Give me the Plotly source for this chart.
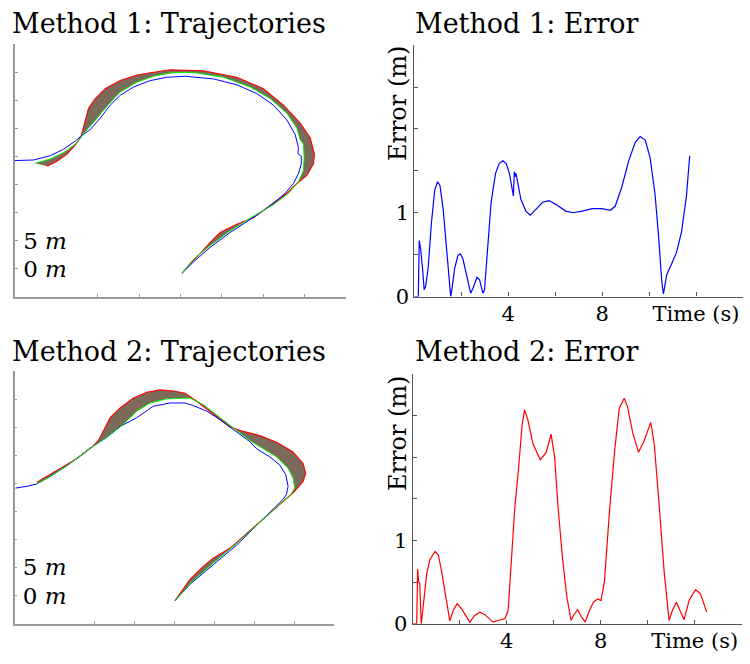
import plotly.graph_objects as go

# ---------------- Method 1 trajectories (metres) ----------------
m1_ref_x = [-20.0, -17.76, -15.74, -14.13, -12.72, -12.12, -10.91, -9.70, -8.49, -7.28, -5.68, -3.66, -1.64, 0.57,
            3.99, 6.81, 9.23, 11.23, 12.85, 13.86, 14.25, 14.2, 14.6, 14.6, 14.25, 13.65, 12.65, 11.23, 9.63, 8.42,
            6.00, 3.59, 1.57, 0.17]
m1_ref_y = [19.25, 19.35, 20.12, 21.27, 22.74, 23.49, 24.77, 26.81, 29.14, 30.89, 32.36, 33.51, 34.10, 34.28,
            33.81, 32.76, 31.18, 29.14, 26.52, 23.90, 21.57, 20.5, 20.0, 18.65, 16.90, 15.16, 13.41, 11.66, 9.91, 8.76,
            6.42, 3.79, 1.17, -0.86]

m1_act_x = [-17.55, -15.74, -13.93, -12.51, -12.03, -11.11, -9.91, -8.70, -7.28, -5.27, -3.26, -1.24, 0.57, 1.98,
            5.19, 8.42, 10.84, 12.85, 14.06, 14.46, 14.86, 14.94, 14.86, 14.25, 13.05, 11.23, 8.42, 6.00, 3.59, 1.57,
            0.17]
m1_act_y = [18.77, 19.53, 20.82, 22.44, 23.44, 25.07, 27.11, 29.26, 31.48, 33.23, 34.28, 34.86, 34.98, 34.86,
            34.10, 32.36, 30.31, 27.69, 25.07, 23.02, 22.15, 19.82, 17.50, 15.45, 13.41, 11.38, 8.98, 6.71, 4.09, 1.64,
            -0.86]

m1_out_x = [-16.14, -14.93, -13.72, -12.72, -12.03, -11.72, -11.11, -10.30, -9.10, -7.28, -5.27, -2.85, -1.24,
            2.78, 6.81, 10.03, 12.44, 14.46, 15.67, 16.19, 16.07, 15.27, 14.06, 12.85, 11.23, 8.82, 6.81, 4.80, 3.59,
            2.38, 1.17, 0.17]
m1_out_y = [18.25, 19.12, 20.40, 22.04, 23.49, 25.36, 28.56, 30.31, 32.06, 33.51, 34.51, 35.08, 35.43,
            35.26, 34.10, 32.06, 29.14, 25.94, 23.32, 20.40, 18.65, 16.62, 15.16, 13.41, 11.61, 9.04, 7.88, 6.42, 4.67,
            2.64, 0.89, -0.86]

# ---------------- Method 2 trajectories (metres) ----------------
m2_ref_x = [-19.9, -18.45, -17.29, -15.54, -13.04, -10.54, -8.45, -6.79, -4.70, -2.63, -0.54, 1.34, 2.38, 4.05,
            5.71, 7.80, 9.46, 10.30, 11.96, 13.21, 13.96, 14.25, 14.05, 13.63, 11.13, 7.80, 4.88, 1.96, 0.09]
m2_ref_y = [19.15, 19.47, 19.87, 21.22, 23.55, 26.29, 28.21, 30.14, 31.71, 33.75, 34.33, 34.33, 33.86, 32.88,
            31.36, 29.09, 27.43, 26.17, 24.72, 23.27, 21.52, 19.47, 18.02, 17.15, 13.65, 8.98, 5.49, 1.99, -0.93]

m2_act_x = [-17.29, -15.54, -13.04, -10.54, -8.45, -6.38, -4.70, -3.04, -0.95, 1.34, 1.96, 3.63, 5.71, 7.80,
            9.46, 11.13, 12.80, 14.25, 14.88, 15.09, 14.46, 13.63, 11.13, 7.80, 4.88, 1.96, 0.09]
m2_act_y = [19.87, 21.22, 23.55, 26.29, 28.21, 30.54, 32.88, 34.33, 35.08, 35.20, 35.20, 34.03, 31.71, 29.38,
            27.64, 26.17, 24.72, 22.67, 20.92, 19.18, 17.72, 16.85, 13.65, 9.28, 5.79, 2.12, -0.93]

m2_out_x = [-17.20, -16.38, -14.29, -12.20, -10.33, -9.50, -8.88, -8.04, -6.79, -5.13, -3.45, -1.79, -0.13, 1.34,
            2.80, 4.88, 6.96, 8.63, 10.71, 12.80, 14.88, 16.13, 16.46, 16.13, 15.09, 13.84, 11.13, 9.5, 6.96, 4.88,
            3.63, 1.96, 0.09]
m2_out_y = [20.17, 20.92, 22.67, 24.42, 26.46, 27.64, 29.38, 31.71, 33.46, 35.20, 36.25, 36.66, 36.48, 36.08,
            34.63, 32.29, 30.08, 29.26, 28.51, 27.34, 25.59, 23.55, 21.80, 20.35, 18.60, 17.03, 13.65, 11.55, 8.41,
            6.66, 5.19, 2.87, -0.93]

# ---------------- Errors ----------------
err1_t = [0, 0.17, 0.21, 0.27, 0.35, 0.42, 0.48, 0.59, 0.73, 0.87, 0.99, 1.09, 1.23, 1.37, 1.51, 1.55, 1.62, 1.72,
          1.86, 1.96, 2.07, 2.24, 2.40, 2.50, 2.67, 2.78, 2.92, 2.99, 3.13, 3.27, 3.46, 3.62, 3.77, 3.91, 4.05, 4.15,
          4.22, 4.26, 4.30, 4.33, 4.37, 4.54, 4.75, 4.94, 5.18, 5.46, 5.74, 6.02, 6.45, 6.76, 7.15, 7.58, 8.00, 8.35,
          8.56, 8.84, 9.13, 9.41, 9.62, 9.83, 10.04, 10.25, 10.40, 10.54, 10.61, 10.75, 10.96, 11.17, 11.38, 11.59,
          11.73]
err1_v = [0, 0, 0.668, 0.57, 0.34, 0.08, 0.12, 0.34, 0.88, 1.27, 1.37, 1.33, 1.04, 0.57, 0.10, 0.0, 0.12, 0.34,
          0.49, 0.51, 0.45, 0.22, 0.04, 0.10, 0.23, 0.20, 0.04, 0.08, 0.57, 1.12, 1.47, 1.59, 1.62, 1.59, 1.47, 1.33,
          1.20, 1.49, 1.43, 1.47, 1.41, 1.16, 1.02, 0.97, 1.04, 1.125, 1.145, 1.10, 1.02, 1.00, 1.02, 1.05, 1.05, 1.03,
          1.08, 1.31, 1.62, 1.84, 1.91, 1.87, 1.66, 1.23, 0.73, 0.18, 0.03, 0.26, 0.39, 0.53, 0.77, 1.20,
          1.68]

err2_t = [0, 0.17, 0.21, 0.25, 0.30, 0.36, 0.42, 0.59, 0.73, 0.95, 1.09, 1.23, 1.41, 1.58, 1.72, 1.89, 2.08, 2.29,
          2.43, 2.64, 2.86, 3.07, 3.28, 3.42, 3.63, 3.92, 4.06, 4.20, 4.34, 4.51, 4.66, 4.76, 4.90, 5.12, 5.43, 5.68,
          5.89, 6.04, 6.18, 6.36, 6.56, 6.74, 6.84, 7.02, 7.19, 7.34, 7.52, 7.69, 7.87, 8.01, 8.16, 8.37, 8.58, 8.79,
          9.00, 9.14, 9.36, 9.61, 9.85, 10.13, 10.28, 10.49, 10.70, 10.91, 11.05, 11.22, 11.41, 11.55, 11.76, 12.04,
          12.25, 12.51]
err2_v = [0, 0, 0.66, 0.51, 0.48, 0.0, 0.14, 0.59, 0.77, 0.87, 0.83, 0.63, 0.32, 0.035, 0.16, 0.24, 0.18, 0.075,
          0.02, 0.10, 0.14, 0.11, 0.05, 0.02, 0.04, 0.06, 0.16, 0.79, 1.38, 1.89, 2.40, 2.57, 2.45, 2.16, 1.97, 2.06,
          2.28, 2.00, 1.42, 0.83, 0.32, 0.04, 0.10, 0.17, 0.08, 0.02, 0.16, 0.26, 0.30, 0.28, 0.51, 1.34, 2.04, 2.59,
          2.71, 2.61, 2.30, 2.06, 2.20, 2.42, 2.16, 1.42, 0.63, 0.04, 0.16, 0.26, 0.14, 0.05, 0.28, 0.41,
          0.36, 0.14]

traj_ticks = [-20, -15, -10, -5, 0, 5, 10, 15, 20]
traj_yticks = [-5, 0, 5, 10, 15, 20, 25, 30, 35, 40]
traj_ytext = ["", "0 <i>m</i>", "5 <i>m</i>", "", "", "", "", "", "", ""]
err_xticks = [0, 2, 4, 6, 8, 10, 12, 14]
err_xtext = ["", "", "4", "", "8", "", "Time (s)", ""]
err_yticks = [0, 0.5, 1, 1.5, 2, 2.5, 3]
err_ytext = ["0", "", "1", "", "", "", ""]

FONT = "DejaVu Serif"
fig = go.Figure()


def add_traj(ax, ay, rx, ry, gx, gy, ox, oy):
    fig.add_trace(go.Scatter(
        x=list(gx) + list(ox[::-1]), y=list(gy) + list(oy[::-1]),
        fill="toself", mode="none", xaxis=ax, yaxis=ay, hoverinfo="skip",
        fillcolor="rgb(125,108,92)",
        fillpattern=dict(shape="/", fgcolor="rgba(50,140,130,0.9)", bgcolor="rgb(138,100,82)",
                         size=3, solidity=0.35),
        showlegend=False))
    fig.add_trace(go.Scatter(x=ox, y=oy, mode="lines", line=dict(color="#ff0000", width=1.1),
                             xaxis=ax, yaxis=ay, showlegend=False))
    fig.add_trace(go.Scatter(x=rx, y=ry, mode="lines", line=dict(color="#0000ff", width=1),
                             xaxis=ax, yaxis=ay, showlegend=False))
    fig.add_trace(go.Scatter(x=gx, y=gy, mode="lines", line=dict(color="#00ee00", width=1),
                             xaxis=ax, yaxis=ay, showlegend=False))


add_traj("x", "y", m1_ref_x, m1_ref_y, m1_act_x, m1_act_y, m1_out_x, m1_out_y)
add_traj("x2", "y2", m2_ref_x, m2_ref_y, m2_act_x, m2_act_y, m2_out_x, m2_out_y)
fig.add_trace(go.Scatter(x=err1_t, y=err1_v, mode="lines", line=dict(color="#0000ff", width=1.2),
                         xaxis="x3", yaxis="y3", showlegend=False))
fig.add_trace(go.Scatter(x=err2_t, y=err2_v, mode="lines", line=dict(color="#ff0000", width=1.2),
                         xaxis="x4", yaxis="y4", showlegend=False))

traj_ax = dict(showgrid=False, zeroline=False, showline=True, linecolor="#9a9a9a", linewidth=1.5,
               ticks="inside", ticklen=3, tickcolor="#9a9a9a", tickwidth=1)
err_ax = dict(showgrid=False, zeroline=False, showline=True, linecolor="#555555", linewidth=1.2,
              ticks="inside", ticklen=4, tickcolor="#555555", tickwidth=1,
              tickfont=dict(family=FONT, size=21, color="black"))
traj_yfont = dict(family=FONT, size=23, color="black")

fig.update_layout(
    width=750, height=664, margin=dict(l=0, r=0, t=0, b=0),
    paper_bgcolor="white", plot_bgcolor="white", showlegend=False,
    font=dict(family=FONT, color="black"),
    xaxis=dict(domain=[0.020, 0.4613], range=[-20, 20], tickvals=traj_ticks, showticklabels=False,
               anchor="y", **traj_ax),
    yaxis=dict(domain=[0.5452, 0.9322], range=[-5, 40], tickvals=traj_yticks, ticktext=traj_ytext,
               ticklabelposition="inside", ticklabelstandoff=7, tickfont=traj_yfont,
               anchor="x", **traj_ax),
    xaxis2=dict(domain=[0.0196, 0.4453], range=[-20, 20], tickvals=traj_ticks, showticklabels=False,
                anchor="y2", **traj_ax),
    yaxis2=dict(domain=[0.0437, 0.4307], range=[-5, 40], tickvals=traj_yticks, ticktext=traj_ytext,
                ticklabelposition="inside", ticklabelstandoff=7, tickfont=traj_yfont,
                anchor="x2", **traj_ax),
    xaxis3=dict(domain=[0.5524, 0.9907], range=[0, 14], tickvals=err_xticks, ticktext=err_xtext,
                ticklabelstandoff=-2, anchor="y3", **err_ax),
    yaxis3=dict(domain=[0.5452, 0.9307], range=[0, 3], tickvals=err_yticks, ticktext=err_ytext,
                anchor="x3", **err_ax),
    xaxis4=dict(domain=[0.5503, 0.9889], range=[0, 14], tickvals=err_xticks, ticktext=err_xtext,
                ticklabelstandoff=-2, anchor="y4", **err_ax),
    yaxis4=dict(domain=[0.0432, 0.4262], range=[0, 3], tickvals=err_yticks, ticktext=err_ytext,
                anchor="x4", **err_ax),
)

titles = [("Method 1: Trajectories", 10, 24), ("Method 1: Error", 413, 24),
          ("Method 2: Trajectories", 10, 358), ("Method 2: Error", 413, 358)]
for txt, px, py in titles:
    fig.add_annotation(text=txt, x=px / 750, y=1 - py / 664, xref="paper", yref="paper",
                       xanchor="left", yanchor="middle", showarrow=False,
                       font=dict(family=FONT, size=27, color="black"))
for py in (105, 441):
    fig.add_annotation(text="Error (m)", x=398 / 750, y=1 - py / 664, xref="paper", yref="paper",
                       xanchor="center", yanchor="middle", textangle=-90, showarrow=False,
                       font=dict(family=FONT, size=24, color="black"))

fig.write_html("out.html", config={"displayModeBar": False},
               post_script="document.body.style.margin='0';document.body.style.overflow='hidden';")
